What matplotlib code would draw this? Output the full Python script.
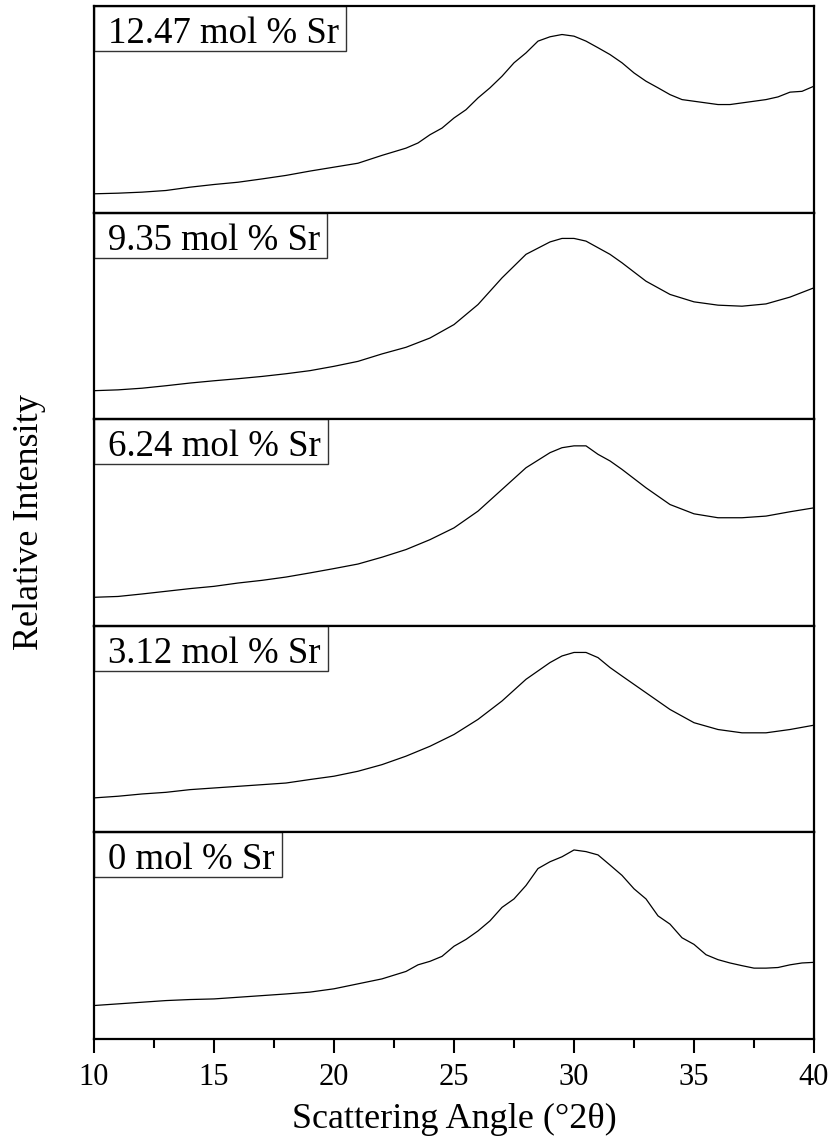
import matplotlib
matplotlib.use("Agg")
import matplotlib.pyplot as plt
from matplotlib.patches import Rectangle
from matplotlib.ticker import MultipleLocator
import matplotlib.transforms as mtransforms

plt.rcParams['font.family'] = ['Liberation Serif', 'DejaVu Serif']

# Scattering angle (deg 2theta)
angles_fine = [10, 11, 12, 13, 14, 15, 16, 17, 18, 19, 20, 21, 22,
               23, 23.5, 24, 24.5, 25, 25.5, 26, 26.5, 27, 27.5, 28, 28.5, 29, 29.5,
               30, 30.5, 31, 31.5, 32, 32.5, 33, 33.5, 34, 34.5, 35, 35.5, 36, 36.5,
               37, 37.5, 38, 38.5, 39, 39.5, 40]
angles_coarse = [10, 11, 12, 13, 14, 15, 16, 17, 18, 19, 20, 21, 22, 23, 24, 25, 26, 27, 28, 29,
                 29.5, 30, 30.5, 31, 31.5, 32, 33, 34, 35, 36, 37, 38, 39, 40]

# Relative intensity (arbitrary units)
sr_12_47 = [9.1, 9.4, 9.9, 10.7, 12.3, 13.6, 14.7, 16.3, 18.0, 20.1, 22.0, 23.9, 27.7,
            31.2, 33.7, 37.7, 40.9, 45.8, 49.8, 55.5, 60.4, 66.0, 72.5, 77.3, 83.0, 85.1, 86.2,
            85.4, 83.0, 79.8, 76.5, 72.5, 67.6, 63.6, 60.4, 57.1, 54.7, 53.9, 53.1, 52.3, 52.3,
            53.1, 53.9, 54.7, 56.0, 58.3, 58.7, 61.2]
sr_9_35 = [13.8, 14.2, 15.0, 16.2, 17.5, 18.6, 19.6, 20.7, 22.0, 23.5, 25.6, 28.0, 31.6, 34.8,
           39.3, 45.8, 55.5, 68.4, 79.8, 85.8, 87.5, 87.5, 86.2, 83.0, 79.8, 75.7, 66.8,
           60.4, 56.8, 55.2, 54.7, 55.8, 59.1, 63.6]
sr_6_24 = [13.8, 14.2, 15.4, 16.7, 18.0, 19.1, 20.7, 22.0, 23.6, 25.6, 27.7, 29.9, 33.2, 36.9,
           41.7, 47.4, 55.5, 66.0, 76.5, 83.8, 86.2, 87.1, 87.1, 83.0, 79.8, 75.7, 66.8,
           58.7, 54.2, 52.3, 52.3, 53.1, 55.2, 57.1]
sr_3_12 = [16.7, 17.5, 18.6, 19.4, 20.7, 21.5, 22.3, 23.1, 23.9, 25.6, 27.2, 29.6, 32.8, 36.9,
           41.7, 47.4, 54.7, 63.6, 74.1, 82.2, 85.4, 87.1, 87.1, 84.6, 79.8, 75.7, 67.6,
           59.5, 53.1, 49.8, 48.2, 48.2, 49.8, 51.9]
sr_0 = [16.2, 17.0, 17.8, 18.6, 19.1, 19.4, 20.2, 21.0, 21.8, 22.7, 24.3, 26.7, 29.1,
        32.7, 35.9, 37.6, 40.0, 44.9, 48.2, 52.3, 57.2, 63.7, 67.8, 74.3, 82.5, 85.8, 88.2,
        91.5, 90.7, 89.1, 84.2, 79.2, 72.7, 67.8, 59.6, 55.6, 49.0, 45.8, 40.8, 38.4, 36.8,
        35.5, 34.3, 34.3, 34.6, 35.9, 36.8, 37.1]

labels = ["12.47 mol % Sr", "9.35 mol % Sr", "6.24 mol % Sr", "3.12 mol % Sr", "0 mol % Sr"]
series = [(angles_fine, sr_12_47), (angles_coarse, sr_9_35), (angles_coarse, sr_6_24),
          (angles_coarse, sr_3_12), (angles_fine, sr_0)]

DPI = 100
fig = plt.figure(figsize=(8.31, 11.45), dpi=DPI)
gs = fig.add_gridspec(5, 1, left=94/831, right=814/831, bottom=1-1039/1145, top=1-6/1145, hspace=0)
axes = [fig.add_subplot(gs[i, 0]) for i in range(5)]

texts = []
for i, (ax, (x, y), lab) in enumerate(zip(axes, series, labels)):
    ax.plot(x, y, color='black', lw=0.9)
    ax.set_xlim(10, 40)
    ax.set_ylim(0, 100)
    ax.set_yticks([])
    for sp in ax.spines.values():
        sp.set_linewidth(1.6)
        sp.set_zorder(5)
    off = mtransforms.ScaledTranslation(14/DPI, -37/DPI, fig.dpi_scale_trans)
    t = ax.text(0, 1, lab, transform=ax.transAxes + off, ha='left', va='baseline',
                fontsize=26.5, zorder=4)
    texts.append(t)
    if i < 4:
        ax.tick_params(axis='x', which='both', bottom=False, labelbottom=False)
    else:
        ax.xaxis.set_major_locator(MultipleLocator(5))
        ax.xaxis.set_minor_locator(MultipleLocator(2.5))
        ax.tick_params(axis='x', which='major', direction='out', length=10, width=1.5,
                       labelsize=22, pad=7)
        ax.tick_params(axis='x', which='minor', direction='out', length=6.5, width=1.5)
        ax.set_xlabel("Scattering Angle (°2θ)", fontsize=26, labelpad=8)

fig.text(30/831, 1-522/1145, "Relative Intensity", rotation=90, ha='center', va='center',
         fontsize=26)

# label boxes sized to the text
fig.canvas.draw()
renderer = fig.canvas.get_renderer()
for ax, t in zip(axes, texts):
    ext = t.get_window_extent(renderer)
    abox = ax.get_window_extent(renderer)
    w_px = ext.x1 + 7 - abox.x0
    h_px = 45
    rect = Rectangle((0, 1 - h_px / abox.height), w_px / abox.width, h_px / abox.height,
                     transform=ax.transAxes, facecolor='white', edgecolor='#333333',
                     lw=1.0, zorder=3, clip_on=False)
    ax.add_patch(rect)

fig.savefig("out.png", dpi=DPI)
